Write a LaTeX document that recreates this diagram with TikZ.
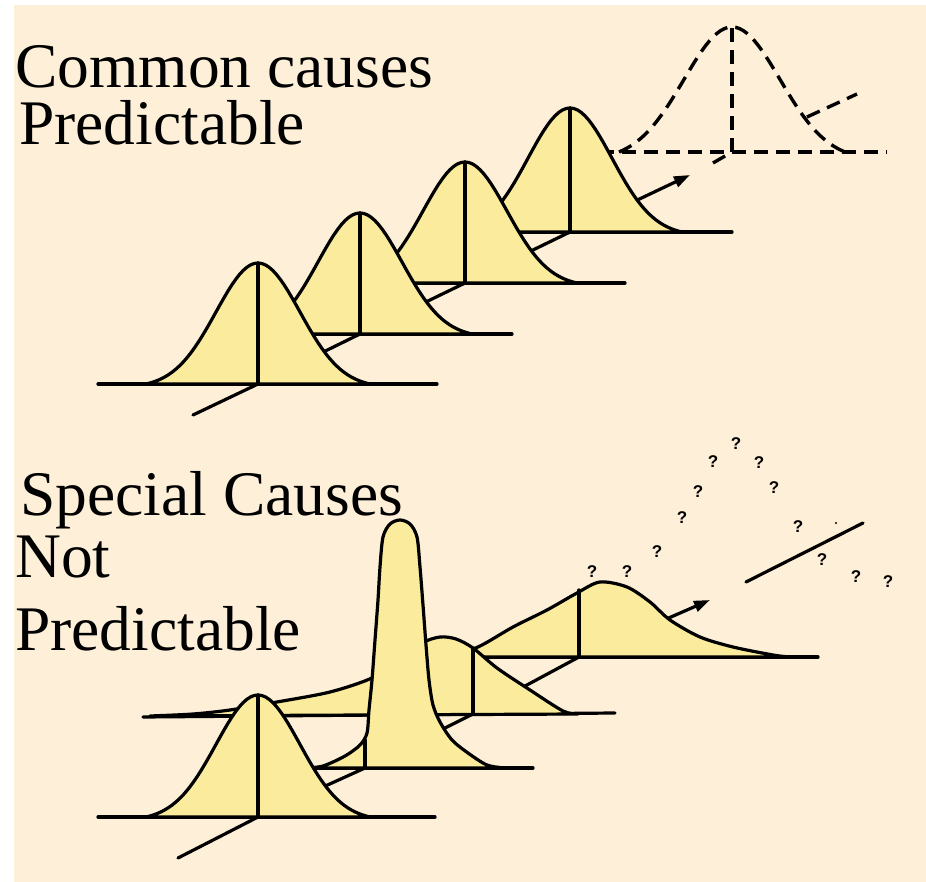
\documentclass[tikz,border=0pt]{standalone}
\usepackage{fontspec}
\setmainfont{Liberation Serif}
\newfontfamily\qfont{Liberation Sans}
\usetikzlibrary{arrows.meta}
\definecolor{cream}{RGB}{253,239,216}
\definecolor{bellyellow}{RGB}{250,236,156}
\newcommand\bellcurve[3]{%
  \filldraw[bellfill,curve] plot[domain=-112:112,samples=61]
    ({#1+\x},{#2-#3*(exp(-\x*\x/3528)-0.0286)/0.9714}) -- cycle;
  \draw[curve] (#1,#2) -- (#1,#2-#3);
}
\begin{document}
\begin{tikzpicture}[x=1pt,y=-1pt,
  curve/.style={line width=3.2pt, line join=round, line cap=round},
  dashcurve/.style={line width=3.4pt, dash pattern=on 14pt off 8pt},
  bellfill/.style={fill=bellyellow},
  bigtext/.style={anchor=base west, inner sep=0pt, font=\fontsize{63.5}{70}\selectfont},
  qmark/.style={inner sep=0pt, font=\qfont\bfseries\fontsize{17}{17}\selectfont},
  axisarrow/.style={curve, -{Triangle[length=16pt,width=11pt]}}]
\useasboundingbox (0,0) rectangle (926,882);
\fill[white] (0,0) rectangle (926,882);
\fill[cream] (14,5) rectangle (926,882);

% ---------- texts ----------
\node[bigtext] (t1) at (15,88) {Common causes};
\node[bigtext] (t2) at (19,145) {Predictable};
\node[bigtext] (t3) at (20,515) {Special Causes};
\node[bigtext] (t4) at (15,577) {Not};
\node[bigtext] (t5) at (15,650) {Predictable};

% ---------- top: predictable ----------
% dashed future distribution
\draw[dashcurve] plot[domain=-113:113,samples=61]
  ({732+\x},{152-125*(exp(-\x*\x/4608)-0.0624)/0.9376});
\draw[dashcurve] (600,152) -- (887,152);
\draw[dashcurve] (732,152) -- (732,27);
\draw[dashcurve] (713,163) -- (732,152);
\draw[dashcurve] (807,117) -- (857,94);
% arrow behind C4
\draw[axisarrow] (570,232) -- (690,175);
% C4
\draw[curve] (455,232) -- (732,232);
\bellcurve{570}{232}{124}
\draw[curve] (465,283) -- (570,232);
% C3
\draw[curve] (350,283) -- (625,283);
\bellcurve{465}{283}{121}
\draw[curve] (360,334) -- (465,283);
% C2
\draw[curve] (245,334) -- (512,334);
\bellcurve{360}{334}{121}
\draw[curve] (258,384) -- (360,334);
% C1
\draw[curve] (98,384) -- (437,384);
\bellcurve{258}{384}{121}
\draw[curve] (193,415) -- (258,384);

% ---------- bottom: not predictable ----------
\foreach \n/\px/\py in {1/592/572, 2/627/572, 3/657/552, 4/682/518, 5/698/492,
  6/713/462, 7/736/444, 8/759/463, 9/774/488, 10/798/527, 11/822/560,
  12/856/577, 13/888/582}
  \node[qmark] (q\n) at (\px,\py) {?};
\fill (836,523) circle (1.2);
\draw[curve] (746,582) -- (863,523);

% arrow behind B4
\draw[axisarrow] (579,657) -- (710,600);
% B4
\draw[curve] (420,657) -- (818,657);
\filldraw[bellfill,curve] plot[smooth] coordinates {(420,657) (450,655) (478,647)
  (513,627) (547,610) (577,593) (600,582) (627,587) (650,602) (670,620)
  (700,637) (733,647) (773,655) (790,657)} -- cycle;
\draw[curve] (579,657) -- (579,590);
\draw[curve] (473,714) -- (579,657);
% B3
\draw[curve] (143,717) -- (615,713);
\filldraw[bellfill,curve] plot[smooth] coordinates {(150,716) (193,714) (230,710)
  (277,702) (330,692) (372,678) (400,660) (422,643) (440,637) (456,639)
  (473,648) (497,668) (530,690) (563,711) (578,714)} -- cycle;
\draw[curve] (473,714) -- (473,648);
\draw[curve] (365,768) -- (473,714);
% B2
\draw[curve] (305,768) -- (533,768);
\filldraw[bellfill,curve] plot[smooth] coordinates {(305,768) (323,766) (345,756)
  (360,745) (367,733) (369,710) (372,680) (375,640) (378,600) (380,567)
  (383,537) (390,524) (400,520) (410,524) (417,537) (420,567) (423,605)
  (426,645) (429,680) (433,705) (440,722) (452,740) (468,753) (487,765)
  (505,768)} -- cycle;
\draw[curve] (365,768) -- (365,740);
\draw[curve] (257,817) -- (365,768);
% B1
\draw[curve] (98,817) -- (435,817);
\bellcurve{258}{817}{122}
\draw[curve] (178,858) -- (258,817);
\end{tikzpicture}
\end{document}
